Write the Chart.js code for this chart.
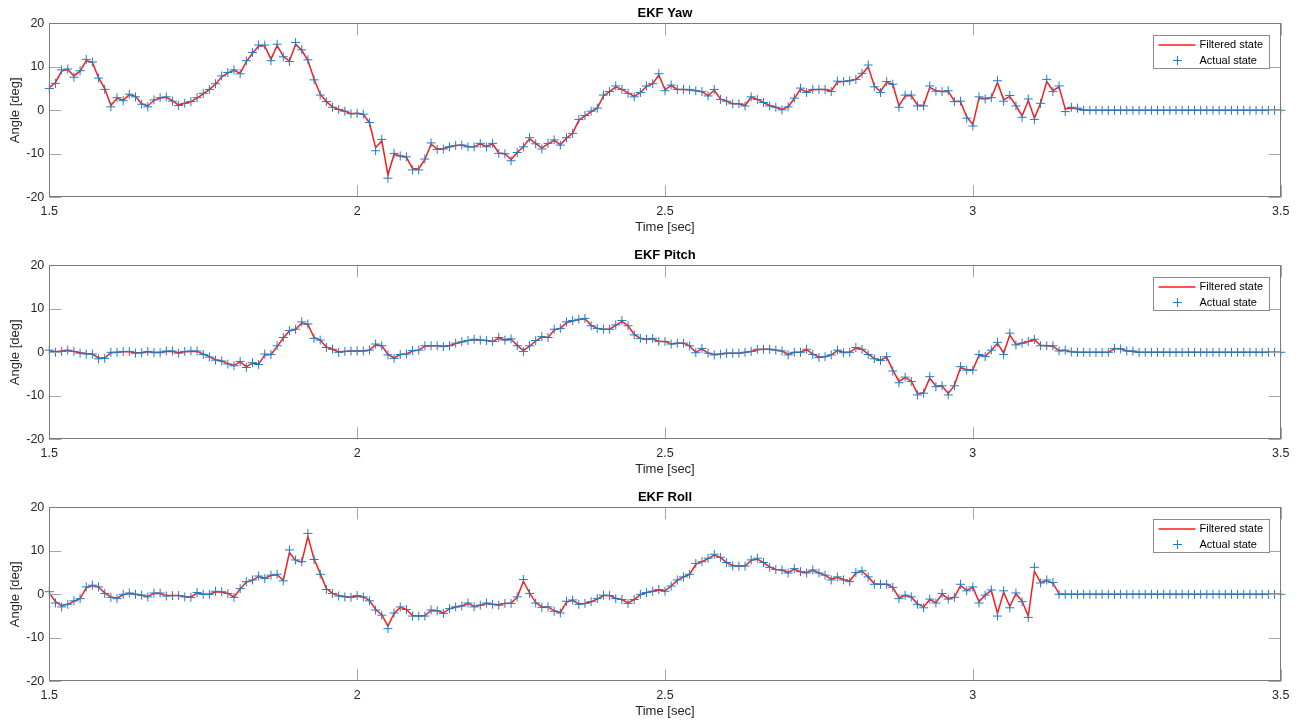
<!DOCTYPE html>
<html>
<head>
<meta charset="utf-8">
<script src="https://cdn.jsdelivr.net/npm/chart.js@4/dist/chart.umd.min.js"></script>
<style>
  html, body { margin: 0; padding: 0; background: #fff; width: 1304px; height: 722px; overflow: hidden; }
  .panel { position: absolute; left: 0; width: 1304px; height: 240px; }
</style>
</head>
<body>
<div class="panel" style="top:0px"><canvas id="cYaw" width="1304" height="240"></canvas></div>
<div class="panel" style="top:242px"><canvas id="cPitch" width="1304" height="240"></canvas></div>
<div class="panel" style="top:484px"><canvas id="cRoll" width="1304" height="240"></canvas></div>
<script>
// ---- sample grid (time in seconds, 0.01 s step from 1.5 to 3.5) ----
const T_START = 1.5, T_STEP = 0.01, N_SAMPLES = 201;
const time = [];
for (let i = 0; i < N_SAMPLES; i++) time.push(Math.round((T_START + i * T_STEP) * 100) / 100);

const xTickValues = [1.5, 2, 2.5, 3, 3.5];
const yTickValues = [-20, -10, 0, 10, 20];
const titles = ['EKF Yaw', 'EKF Pitch', 'EKF Roll'];
const seriesNames = ['Filtered state', 'Actual state'];

// ---- EKF Yaw ----
const yawActual = [
  5.0, 6.2, 9.3, 9.5, 7.6, 9.1, 11.7, 11.1, 7.4, 4.8,
  0.8, 2.9, 2.2, 3.7, 3.1, 1.4, 0.8, 2.4, 2.9, 3.1,
  2.1, 1.1, 1.6, 2.0, 2.9, 3.9, 4.8, 6.1, 7.9, 8.7,
  9.3, 8.4, 11.4, 13.3, 15.0, 15.0, 11.4, 15.2, 12.3, 11.2,
  15.6, 13.9, 11.6, 7.0, 3.5, 2.0, 0.7, 0.2, -0.2, -0.8,
  -0.7, -0.9, -2.8, -9.3, -6.7, -15.6, -9.9, -10.5, -10.7, -13.7,
  -13.7, -11.2, -7.5, -9.0, -8.9, -8.4, -8.1, -8.0, -8.4, -8.4,
  -7.6, -8.4, -7.6, -9.9, -10.0, -11.6, -9.7, -8.4, -6.3, -7.7,
  -8.9, -7.6, -6.8, -8.0, -6.3, -5.3, -2.1, -1.2, -0.2, 0.5,
  3.5, 4.3, 5.6, 4.8, 3.9, 3.1, 4.1, 5.6, 6.1, 8.4,
  4.5, 5.8, 4.8, 4.8, 4.7, 4.5, 4.3, 3.3, 4.8, 2.5,
  2.1, 1.5, 1.5, 1.0, 3.1, 2.5, 1.8, 1.0, 0.7, 0.1,
  0.8, 2.8, 5.1, 4.1, 4.8, 4.8, 4.8, 4.3, 6.7, 6.6,
  6.8, 7.1, 8.5, 10.4, 5.4, 4.1, 6.6, 6.0, 0.7, 3.5,
  3.5, 1.0, 1.0, 5.6, 4.4, 4.3, 4.5, 2.0, 2.1, -1.8,
  -3.6, 3.1, 2.6, 2.9, 6.8, 2.1, 3.4, 1.0, -1.6, 2.6,
  -2.1, 1.6, 7.1, 4.3, 5.6, -0.3, 0.7, 0.5, 0, 0,
  0, 0, 0, 0, 0, 0, 0, 0, 0, 0,
  0, 0, 0, 0, 0, 0, 0, 0, 0, 0,
  0, 0, 0, 0, 0, 0, 0, 0, 0, 0,
  0
];
const yawFiltered = [
  5.2, 6.4, 9.0, 9.4, 7.9, 9.0, 11.4, 11.0, 7.5, 5.0,
  1.1, 2.8, 2.3, 3.6, 3.2, 1.5, 1.0, 2.3, 2.8, 3.0,
  2.2, 1.2, 1.6, 2.0, 2.8, 3.8, 4.8, 6.0, 7.7, 8.6,
  9.2, 8.5, 11.2, 13.1, 14.8, 14.8, 11.7, 14.9, 12.4, 11.3,
  15.2, 13.8, 11.5, 7.2, 3.7, 2.0, 0.8, 0.2, -0.2, -0.8,
  -0.7, -0.9, -2.9, -8.6, -7.0, -14.8, -10.1, -10.5, -10.8, -13.4,
  -13.5, -11.3, -7.8, -8.9, -8.8, -8.4, -8.1, -8.0, -8.3, -8.4,
  -7.7, -8.3, -7.7, -9.8, -10.0, -11.3, -9.7, -8.4, -6.5, -7.6,
  -8.7, -7.7, -6.9, -7.9, -6.4, -5.3, -2.3, -1.3, -0.3, 0.5,
  3.3, 4.3, 5.4, 4.8, 4.0, 3.2, 4.1, 5.5, 6.1, 8.1,
  4.7, 5.7, 4.8, 4.8, 4.7, 4.5, 4.3, 3.4, 4.6, 2.6,
  2.1, 1.5, 1.5, 1.1, 3.0, 2.5, 1.8, 1.1, 0.7, 0.2,
  0.8, 2.7, 4.9, 4.2, 4.7, 4.8, 4.8, 4.4, 6.5, 6.6,
  6.8, 7.1, 8.3, 10.0, 5.6, 4.3, 6.4, 6.0, 1.0, 3.3,
  3.4, 1.2, 1.1, 5.3, 4.5, 4.3, 4.4, 2.1, 2.0, -1.5,
  -3.3, 2.8, 2.7, 2.9, 6.4, 2.4, 3.2, 1.1, -1.3, 2.3,
  -1.8, 1.6, 6.6, 4.5, 5.4, 0.3, 0.5, 0.3, 0.1, 0,
  0, 0, 0, 0, 0, 0, 0, 0, 0, 0,
  0, 0, 0, 0, 0, 0, 0, 0, 0, 0,
  0, 0, 0, 0, 0, 0, 0, 0, 0, 0,
  0
];

// ---- EKF Pitch ----
const pitchActual = [
  0.5, 0, 0.2, 0.5, 0.2, -0.2, -0.4, -0.4, -1.5, -1.4,
  0, 0, 0.2, 0.2, -0.2, -0.1, 0.2, -0.1, -0.1, 0.3,
  0.3, -0.2, 0.2, 0.3, 0.3, -0.5, -1.1, -1.8, -2.0, -2.7,
  -3.1, -2.1, -3.5, -2.4, -2.8, -0.4, -0.5, 1.5, 3.4, 5.0,
  5.3, 7.0, 6.5, 3.2, 2.8, 1.1, 0.7, 0, 0.2, 0.3,
  0.3, 0.3, 0.5, 1.9, 1.5, -0.6, -1.4, -0.5, -0.4, 0.4,
  0.5, 1.5, 1.5, 1.5, 1.3, 1.5, 2.1, 2.4, 2.7, 3.0,
  2.8, 2.7, 2.5, 3.4, 2.8, 3.1, 1.5, 0.2, 1.5, 2.7,
  3.6, 3.4, 5.3, 5.5, 7.0, 7.3, 7.6, 7.8, 6.1, 5.5,
  5.3, 5.3, 6.3, 7.3, 6.1, 4.0, 3.2, 3.0, 3.2, 2.5,
  2.5, 1.9, 2.1, 2.1, 1.5, -0.1, 0.9, -0.2, -0.6, -0.4,
  -0.2, -0.2, -0.2, 0, 0.2, 0.7, 0.7, 0.7, 0.5, 0.3,
  -0.6, 0, 0, 0.7, -0.5, -1.2, -1.0, -0.6, 0.5, -0.1,
  0, 1.1, 0.7, -0.5, -1.5, -1.9, -1.0, -4.3, -7.0, -5.7,
  -6.7, -9.8, -9.4, -5.6, -7.9, -7.7, -9.8, -7.7, -3.3, -4.1,
  -4.1, -0.5, -1.0, 0.5, 2.3, -0.5, 4.4, 1.7, 2.1, 2.5,
  3.0, 1.5, 1.5, 1.5, 0.3, 0.5, 0.1, 0, 0, 0,
  0, 0, 0, 0.9, 0.8, 0.3, 0.3, 0, 0, 0,
  0, 0, 0, 0, 0, 0, 0, 0, 0, 0,
  0, 0, 0, 0, 0, 0, 0, 0, 0, 0,
  0
];
const pitchFiltered = [
  0.3, 0.1, 0.3, 0.4, 0.2, -0.1, -0.3, -0.4, -1.3, -1.3,
  -0.1, 0, 0.1, 0.1, -0.1, -0.1, 0.1, 0, 0, 0.2,
  0.2, -0.1, 0.1, 0.2, 0.2, -0.4, -1.0, -1.7, -2.0, -2.6,
  -3.0, -2.2, -3.3, -2.5, -2.7, -0.6, -0.5, 1.3, 3.3, 4.9,
  5.3, 6.7, 6.4, 3.4, 2.8, 1.2, 0.7, 0.1, 0.2, 0.3,
  0.3, 0.3, 0.5, 1.7, 1.5, -0.5, -1.3, -0.5, -0.4, 0.3,
  0.5, 1.4, 1.5, 1.5, 1.4, 1.5, 2.0, 2.4, 2.7, 2.9,
  2.8, 2.7, 2.5, 3.2, 2.9, 3.0, 1.6, 0.4, 1.4, 2.6,
  3.5, 3.4, 5.1, 5.5, 6.8, 7.2, 7.5, 7.7, 6.2, 5.5,
  5.3, 5.3, 6.2, 7.1, 6.1, 4.1, 3.2, 3.0, 3.1, 2.5,
  2.5, 1.9, 2.1, 2.1, 1.5, 0, 0.8, -0.2, -0.5, -0.4,
  -0.2, -0.2, -0.2, 0, 0.2, 0.6, 0.7, 0.7, 0.5, 0.3,
  -0.5, 0, 0, 0.6, -0.4, -1.1, -1.0, -0.6, 0.4, 0,
  0, 1.0, 0.7, -0.4, -1.4, -1.8, -1.1, -4.1, -6.7, -5.8,
  -6.6, -9.5, -9.3, -5.9, -7.8, -7.7, -9.5, -7.6, -3.5, -4.0,
  -4.0, -0.7, -0.9, 0.4, 2.1, -0.2, 4.0, 1.8, 2.1, 2.5,
  2.9, 1.6, 1.5, 1.4, 0.4, 0.4, 0.1, 0, 0, 0,
  0, 0, 0, 0.8, 0.8, 0.3, 0.2, 0, 0, 0,
  0, 0, 0, 0, 0, 0, 0, 0, 0, 0,
  0, 0, 0, 0, 0, 0, 0, 0, 0, 0,
  0
];

// ---- EKF Roll ----
const rollActual = [
  0.6, -2.0, -2.9, -2.3, -1.5, -1.0, 1.7, 2.1, 1.7, 0.2,
  -0.7, -1.0, 0, 0.3, 0, -0.2, -0.6, 0.3, 0.3, -0.4,
  -0.3, -0.3, -0.6, -0.7, 0.4, 0, 0, 0.7, 0.6, 0.2,
  -0.7, 1.3, 2.9, 3.3, 4.2, 3.6, 4.4, 4.6, 3.1, 10.2,
  7.9, 7.5, 14.0, 8.0, 4.6, 1.1, 0.2, -0.4, -0.6, -0.7,
  -0.3, -0.6, -1.5, -3.6, -4.8, -7.9, -4.3, -2.9, -3.5, -5.0,
  -5.0, -5.0, -3.6, -3.8, -4.4, -3.3, -2.9, -2.7, -2.0, -2.9,
  -2.5, -2.0, -2.3, -2.5, -2.1, -2.1, -0.6, 3.4, 0.2, -2.0,
  -3.0, -2.9, -3.9, -4.3, -1.6, -1.3, -2.3, -2.1, -1.7, -1.0,
  -0.2, -0.3, -1.0, -1.2, -2.1, -1.2, 0, 0.4, 0.7, 1.1,
  0.7, 1.9, 3.3, 4.0, 4.6, 7.1, 7.5, 8.3, 9.2, 8.5,
  7.3, 6.5, 6.5, 6.5, 7.9, 8.3, 7.3, 6.2, 5.7, 5.6,
  4.9, 5.9, 5.2, 4.9, 5.6, 4.9, 4.4, 3.3, 4.0, 3.3,
  2.9, 5.0, 5.4, 4.0, 2.3, 2.3, 2.3, 1.6, -1.0, -0.2,
  -0.6, -2.3, -3.1, -1.1, -2.0, 0.2, -1.1, -0.7, 2.3, 0.8,
  1.7, -2.0, -0.2, 1.0, -5.0, 0.8, -3.1, 0.3, -1.7, -5.3,
  6.2, 2.6, 3.3, 2.7, 0, 0, 0, 0, 0, 0,
  0, 0, 0, 0, 0, 0, 0, 0, 0, 0,
  0, 0, 0, 0, 0, 0, 0, 0, 0, 0,
  0, 0, 0, 0, 0, 0, 0, 0, 0, 0,
  0
];
const rollFiltered = [
  0.3, -1.7, -2.6, -2.3, -1.6, -1.0, 1.5, 2.0, 1.7, 0.3,
  -0.6, -0.9, -0.1, 0.2, 0, -0.2, -0.5, 0.2, 0.2, -0.3,
  -0.3, -0.3, -0.5, -0.6, 0.3, 0, 0, 0.6, 0.5, 0.2,
  -0.6, 1.2, 2.8, 3.2, 4.1, 3.7, 4.3, 4.5, 3.2, 9.6,
  7.8, 7.4, 13.3, 8.1, 4.8, 1.3, 0.2, -0.3, -0.5, -0.7,
  -0.4, -0.6, -1.4, -3.5, -4.7, -7.3, -4.4, -3.0, -3.5, -4.9,
  -5.0, -4.9, -3.7, -3.8, -4.3, -3.3, -2.9, -2.7, -2.1, -2.8,
  -2.5, -2.1, -2.3, -2.4, -2.1, -2.0, -0.7, 3.0, 0.3, -1.9,
  -2.9, -2.9, -3.8, -4.2, -1.8, -1.4, -2.2, -2.1, -1.7, -1.1,
  -0.3, -0.3, -0.9, -1.2, -2.0, -1.2, -0.1, 0.4, 0.7, 1.0,
  0.8, 1.9, 3.2, 4.0, 4.6, 6.9, 7.5, 8.2, 9.0, 8.5,
  7.3, 6.6, 6.5, 6.5, 7.8, 8.1, 7.3, 6.3, 5.7, 5.6,
  5.0, 5.8, 5.2, 5.0, 5.5, 4.9, 4.4, 3.5, 3.9, 3.4,
  3.0, 4.9, 5.3, 4.0, 2.4, 2.3, 2.3, 1.6, -0.8, -0.3,
  -0.6, -2.2, -2.9, -1.2, -1.9, 0, -1.0, -0.7, 2.0, 0.9,
  1.6, -1.7, -0.2, 0.9, -4.4, 0.5, -2.8, 0.2, -1.6, -5.0,
  5.3, 2.7, 3.1, 2.6, 0.1, 0, 0, 0, 0, 0,
  0, 0, 0, 0, 0, 0, 0, 0, 0, 0,
  0, 0, 0, 0, 0, 0, 0, 0, 0, 0,
  0, 0, 0, 0, 0, 0, 0, 0, 0, 0,
  0
];

// ---- styling ----
const FONT = "'Liberation Sans', Arial, Helvetica, sans-serif";
const RED = '#ff1a1a';
const BLUE = '#1f7cc4';
const TEXT = '#262626';

// box + inward MATLAB-style ticks + legend
const matlabAxesPlugin = {
  id: 'matlabAxes',
  afterDraw(chart) {
    const { ctx, chartArea: a } = chart;
    const xs = chart.scales.x, ys = chart.scales.y;
    const TL = 12;
    ctx.save();
    ctx.lineWidth = 1;
    ctx.strokeStyle = '#a6a6a6';
    ctx.beginPath();
    xs.ticks.forEach(t => {
      const px = Math.round(xs.getPixelForValue(t.value)) + 0.5;
      ctx.moveTo(px, a.bottom); ctx.lineTo(px, a.bottom - TL);
      ctx.moveTo(px, a.top); ctx.lineTo(px, a.top + TL);
    });
    ys.ticks.forEach(t => {
      const py = Math.round(ys.getPixelForValue(t.value)) + 0.5;
      ctx.moveTo(a.left, py); ctx.lineTo(a.left + TL, py);
      ctx.moveTo(a.right, py); ctx.lineTo(a.right - TL, py);
    });
    ctx.stroke();
    // box
    ctx.strokeStyle = '#7a7a7a';
    const l = Math.round(a.left) + 0.5, r = Math.round(a.right) - 0.5;
    const tp = Math.round(a.top) + 0.5, bt = Math.round(a.bottom) - 0.5;
    ctx.strokeRect(l, tp, r - l, bt - tp);

    // legend
    const ds = chart.data.datasets;
    const w = 116, h = 33;
    const bx = Math.round(a.right - 12 - w) + 0.5;
    const by = Math.round(a.top + 12) + 0.5;
    ctx.fillStyle = '#ffffff';
    ctx.fillRect(bx, by, w, h);
    ctx.strokeStyle = '#8c8c8c';
    ctx.strokeRect(bx, by, w, h);
    ctx.font = '11px ' + FONT;
    ctx.textBaseline = 'middle';
    ctx.textAlign = 'left';
    ctx.fillStyle = '#000';
    const y1 = by + 9.5, y2 = by + 25;
    ctx.strokeStyle = ds[0].borderColor;
    ctx.lineWidth = 1.5;
    ctx.beginPath(); ctx.moveTo(bx + 5, y1); ctx.lineTo(bx + 42, y1); ctx.stroke();
    ctx.fillText(ds[0].label, bx + 46, y1);
    ctx.strokeStyle = ds[1].borderColor;
    ctx.lineWidth = 1;
    ctx.beginPath();
    ctx.moveTo(bx + 24, y2 - 4.5); ctx.lineTo(bx + 24, y2 + 4.5);
    ctx.moveTo(bx + 19.5, y2); ctx.lineTo(bx + 28.5, y2);
    ctx.stroke();
    ctx.fillText(ds[1].label, bx + 46, y2);
    ctx.restore();
  }
};

function fmtTick(v) { return String(Math.round(v * 100) / 100); }

function makeChart(id, title, filtered, actual) {
  return new Chart(document.getElementById(id), {
    type: 'line',
    data: {
      datasets: [
        {
          label: seriesNames[0],
          data: time.map((t, i) => ({ x: t, y: filtered[i] })),
          borderColor: RED, backgroundColor: RED,
          borderWidth: 1.5, pointRadius: 0, tension: 0, fill: false,
          order: 2
        },
        {
          label: seriesNames[1],
          data: time.map((t, i) => ({ x: t, y: actual[i] })),
          showLine: false,
          pointStyle: 'cross', pointRadius: 4.5, pointBorderWidth: 1,
          borderColor: BLUE, backgroundColor: BLUE,
          pointBorderColor: BLUE,
          clip: false,
          order: 1
        }
      ]
    },
    options: {
      responsive: false,
      animation: false,
      devicePixelRatio: 1,
      events: [],
      layout: { padding: { left: 0, right: 23.3, top: 0, bottom: 0 } },
      plugins: {
        legend: { display: false },
        tooltip: { enabled: false },
        title: {
          display: true, text: title, fullSize: false,
          color: '#000',
          font: { family: FONT, size: 13, weight: 'bold', lineHeight: 1.2 },
          padding: { top: 6, bottom: 1.7 }
        }
      },
      scales: {
        x: {
          type: 'linear', min: 1.5, max: 3.5,
          grid: { display: false, drawTicks: false },
          border: { display: false },
          afterBuildTicks: s => { s.ticks = xTickValues.map(v => ({ value: v })); },
          ticks: {
            padding: 7, color: TEXT, maxRotation: 0, autoSkip: false,
            font: { family: FONT, size: 12.5, lineHeight: 1.2 },
            callback: v => fmtTick(v)
          },
          title: {
            display: true, text: 'Time [sec]', color: TEXT,
            font: { family: FONT, size: 13, lineHeight: 1.2 },
            padding: { top: 0, bottom: 5 }
          },
          afterFit: s => { s.height = 42.7; }
        },
        y: {
          type: 'linear', min: -20, max: 20,
          grid: { display: false, drawTicks: false },
          border: { display: false },
          afterBuildTicks: s => { s.ticks = yTickValues.map(v => ({ value: v })); },
          ticks: {
            padding: 5, color: TEXT, autoSkip: false,
            font: { family: FONT, size: 12.5, lineHeight: 1.2 },
            callback: v => fmtTick(v)
          },
          title: {
            display: true, text: 'Angle [deg]', color: TEXT,
            font: { family: FONT, size: 13, lineHeight: 1.2 },
            padding: { top: 7.7, bottom: 0 }
          },
          afterFit: s => { s.width = 49.3; }
        }
      }
    },
    plugins: [matlabAxesPlugin]
  });
}

makeChart('cYaw', titles[0], yawFiltered, yawActual);
makeChart('cPitch', titles[1], pitchFiltered, pitchActual);
makeChart('cRoll', titles[2], rollFiltered, rollActual);
</script>
</body>
</html>
